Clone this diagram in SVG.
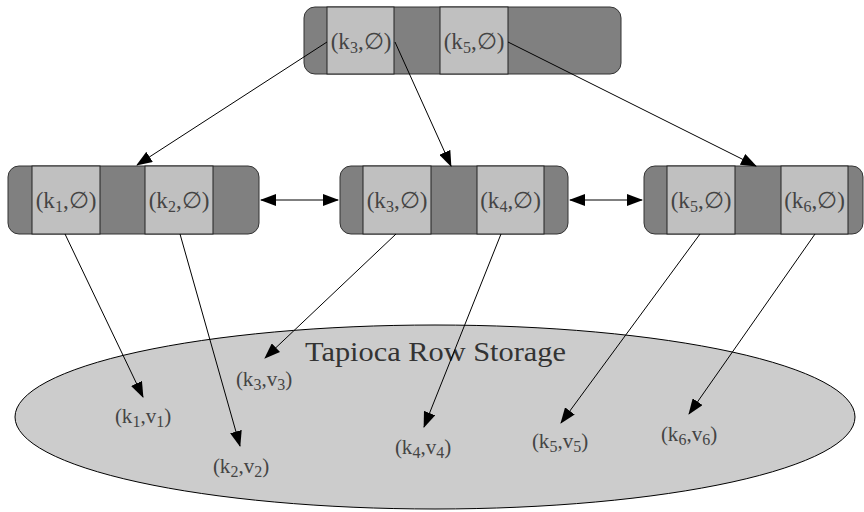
<svg xmlns="http://www.w3.org/2000/svg" width="864" height="512" viewBox="0 0 864 512">
<defs>
<marker id="ah" markerWidth="16" markerHeight="12" refX="15" refY="6" orient="auto" markerUnits="userSpaceOnUse"><path d="M0,0 L16,6 L0,12 z" fill="#000"/></marker>
<marker id="as" markerWidth="16" markerHeight="12" refX="1" refY="6" orient="auto" markerUnits="userSpaceOnUse"><path d="M16,0 L0,6 L16,12 z" fill="#000"/></marker>
</defs>
<style>
.node{fill:#808080;stroke:#333;stroke-width:1}
.cell{fill:#c0c0c0;stroke:#222;stroke-width:1}
.lbl{font-family:"Liberation Serif","DejaVu Serif",serif;font-size:23px;fill:#444;text-anchor:middle}
.kv{font-family:"Liberation Serif","DejaVu Serif",serif;font-size:21px;fill:#444;text-anchor:middle}
.sub{font-size:16px}
.title{font-family:"Liberation Serif","DejaVu Serif",serif;font-size:28px;fill:#333}
.edge{stroke:#000;stroke-width:1;fill:none}
</style>
<g id="storage">
<ellipse cx="435" cy="417" rx="420" ry="92" fill="#cccccc" stroke="#000" stroke-width="1"/>
<text class="title" x="305" y="361" textLength="261" lengthAdjust="spacingAndGlyphs">Tapioca Row Storage</text>
<text class="kv" x="143" y="423">(k<tspan class="sub" dy="4">1</tspan><tspan dy="-4">,v</tspan><tspan class="sub" dy="4">1</tspan><tspan dy="-4">)</tspan></text>
<text class="kv" x="241" y="473">(k<tspan class="sub" dy="4">2</tspan><tspan dy="-4">,v</tspan><tspan class="sub" dy="4">2</tspan><tspan dy="-4">)</tspan></text>
<text class="kv" x="264" y="386">(k<tspan class="sub" dy="4">3</tspan><tspan dy="-4">,v</tspan><tspan class="sub" dy="4">3</tspan><tspan dy="-4">)</tspan></text>
<text class="kv" x="423" y="454">(k<tspan class="sub" dy="4">4</tspan><tspan dy="-4">,v</tspan><tspan class="sub" dy="4">4</tspan><tspan dy="-4">)</tspan></text>
<text class="kv" x="560" y="448">(k<tspan class="sub" dy="4">5</tspan><tspan dy="-4">,v</tspan><tspan class="sub" dy="4">5</tspan><tspan dy="-4">)</tspan></text>
<text class="kv" x="689" y="441">(k<tspan class="sub" dy="4">6</tspan><tspan dy="-4">,v</tspan><tspan class="sub" dy="4">6</tspan><tspan dy="-4">)</tspan></text>
</g>
<g id="root">
<rect class="node" x="304" y="7" width="317" height="67" rx="11"/>
<rect class="cell" x="327" y="7" width="67" height="67"/>
<rect class="cell" x="440" y="7" width="68" height="67"/>
<text class="lbl" x="361" y="49">(k<tspan class="sub" dy="4">3</tspan><tspan dy="-4">,∅)</tspan></text>
<text class="lbl" x="474" y="49">(k<tspan class="sub" dy="4">5</tspan><tspan dy="-4">,∅)</tspan></text>
</g>
<g id="leaf1">
<rect class="node" x="8" y="166" width="251" height="68" rx="11"/>
<rect class="cell" x="32" y="166" width="68" height="68"/>
<rect class="cell" x="145" y="166" width="68" height="68"/>
<text class="lbl" x="66" y="208">(k<tspan class="sub" dy="4">1</tspan><tspan dy="-4">,∅)</tspan></text>
<text class="lbl" x="179" y="208">(k<tspan class="sub" dy="4">2</tspan><tspan dy="-4">,∅)</tspan></text>
</g>
<g id="leaf2">
<rect class="node" x="340" y="166" width="228" height="68" rx="11"/>
<rect class="cell" x="363" y="166" width="68" height="68"/>
<rect class="cell" x="477" y="166" width="67" height="68"/>
<text class="lbl" x="397" y="208">(k<tspan class="sub" dy="4">3</tspan><tspan dy="-4">,∅)</tspan></text>
<text class="lbl" x="510.5" y="208">(k<tspan class="sub" dy="4">4</tspan><tspan dy="-4">,∅)</tspan></text>
</g>
<g id="leaf3">
<rect class="node" x="644" y="166" width="219" height="68" rx="11"/>
<rect class="cell" x="667" y="166" width="68" height="68"/>
<rect class="cell" x="781" y="166" width="67" height="68"/>
<text class="lbl" x="701" y="208">(k<tspan class="sub" dy="4">5</tspan><tspan dy="-4">,∅)</tspan></text>
<text class="lbl" x="814.5" y="208">(k<tspan class="sub" dy="4">6</tspan><tspan dy="-4">,∅)</tspan></text>
</g>
<g id="connectors">
<line class="edge" x1="327" y1="42" x2="137" y2="165" marker-end="url(#ah)"/>
<line class="edge" x1="395" y1="42" x2="451" y2="166" marker-end="url(#ah)"/>
<line class="edge" x1="508" y1="42" x2="756" y2="166" marker-end="url(#ah)"/>
<line class="edge" x1="261" y1="200" x2="338" y2="200" marker-start="url(#as)" marker-end="url(#ah)"/>
<line class="edge" x1="570" y1="200" x2="642" y2="200" marker-start="url(#as)" marker-end="url(#ah)"/>
<line class="edge" x1="65" y1="234" x2="143" y2="397" marker-end="url(#ah)"/>
<line class="edge" x1="180" y1="234" x2="240" y2="446" marker-end="url(#ah)"/>
<line class="edge" x1="396" y1="234" x2="265" y2="358" marker-end="url(#ah)"/>
<line class="edge" x1="501" y1="234" x2="424" y2="427" marker-end="url(#ah)"/>
<line class="edge" x1="700" y1="234" x2="561" y2="423" marker-end="url(#ah)"/>
<line class="edge" x1="815" y1="234" x2="689" y2="414" marker-end="url(#ah)"/>
</g>
</svg>
